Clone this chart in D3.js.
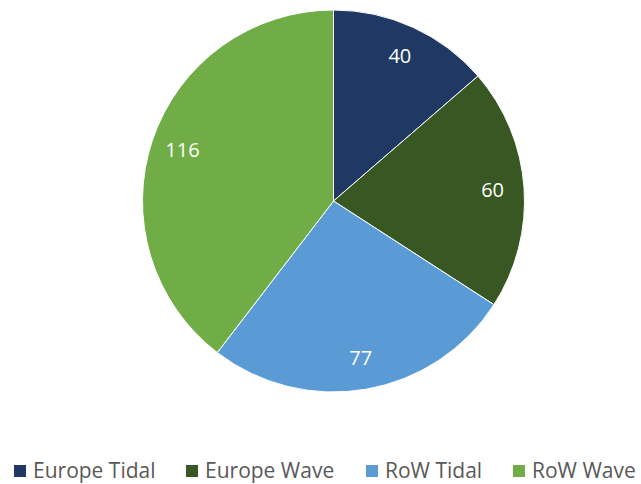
<!DOCTYPE html>
<html><head><meta charset="utf-8">
<script src="https://cdn.jsdelivr.net/npm/d3@7"></script>
<style>body{margin:0;background:#fff}svg{display:block}</style>
</head><body>
<svg id="c" width="641" height="484"></svg>
<script>
const categories = ["Europe Tidal", "Europe Wave", "RoW Tidal", "RoW Wave"];
const values = [40, 60, 77, 116];
const colors = ["#203864", "#385723", "#5B9BD5", "#70AD47"];

const svg = d3.select("#c");
const cx = 333.5, cy = 201, R = 191;
const g = svg.append("g").attr("transform", `translate(${cx},${cy})`);
const pie = d3.pie().sort(null).value(d => d.v);
const data = pie(categories.map((c, i) => ({c, v: values[i], col: colors[i]})));
const arc = d3.arc().innerRadius(0).outerRadius(R);
const labelArc = d3.arc().innerRadius(R * 0.835).outerRadius(R * 0.835);

g.selectAll("path").data(data).join("path")
  .attr("d", arc).attr("fill", d => d.data.col)
  .attr("stroke", "#fff").attr("stroke-width", 1);

g.selectAll("text").data(data).join("text")
  .attr("transform", d => `translate(${labelArc.centroid(d)})`)
  .attr("text-anchor", "middle").attr("dy", "0.35em")
  .attr("fill", "#fff").attr("font-family", "Open Sans, sans-serif").attr("font-size", 20)
  .text(d => d.data.v);

const legX = [14, 186, 366, 513];
const leg = svg.append("g");
categories.forEach((c, i) => {
  leg.append("rect").attr("x", legX[i]).attr("y", 465).attr("width", 12).attr("height", 12).attr("fill", colors[i]);
  leg.append("text").attr("x", legX[i] + 19).attr("y", 471).attr("dy", "0.35em")
    .attr("fill", "#595959").attr("font-family", "Open Sans, sans-serif").attr("font-size", 21).text(c);
});
</script>
</body></html>
